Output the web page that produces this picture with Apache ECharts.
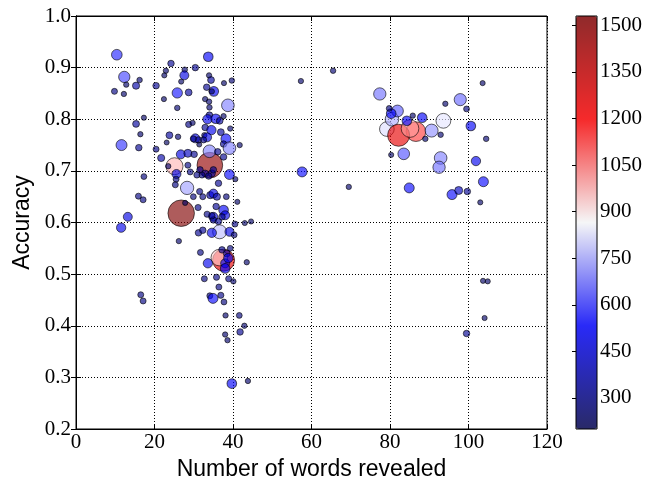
<!DOCTYPE html>
<html>
<head>
<meta charset="utf-8">
<script src="https://cdn.jsdelivr.net/npm/echarts@6/dist/echarts.min.js"></script>
<style>
  html, body { margin: 0; padding: 0; background: #fff; }
  #chart { width: 648px; height: 487px; }
</style>
</head>
<body>
<div id="chart"></div>
<script>
// Words revealed before answering, per question
const words = [
  26.8, 34.1, 37.6, 36.5, 25.1, 79.2, 80.5, 86.6, 82.2, 85.1,
  90.6, 93.6, 77.4, 81.9, 97.9, 83.5, 92.9, 92.5, 80.3, 79.8,
  84.3, 85.8, 88.2, 89.0, 92.9, 94.1, 99.5, 100.6, 103.6, 104.5,
  80.3, 101.9, 103.8, 84.9, 95.8, 97.5, 99.7, 103.0, 103.7, 104.9,
  104.1, 99.5, 57.3, 65.5, 57.6, 69.5, 10.4, 12.3, 16.2, 15.3,
  12.8, 9.8, 12.2, 20.4, 22.4, 25.8, 25.8, 24.2, 22.9, 22.5,
  17.3, 15.3, 16.4, 11.6, 16.0, 20.4, 21.7, 23.8, 26.0, 23.1,
  26.7, 23.5, 17.3, 25.6, 25.5, 25.3, 28.3, 15.9, 17.1, 13.2,
  11.5, 26.2, 16.5, 17.1, 33.7, 30.4, 27.7, 27.6, 26.8, 28.7,
  33.9, 34.4, 37.7, 39.7, 33.3, 35.1, 34.6, 32.9, 33.9, 38.7,
  34.0, 28.7, 29.7, 34.0, 33.5, 35.6, 37.6, 36.6, 32.9, 34.5,
  39.3, 36.9, 32.7, 38.2, 30.4, 31.2, 29.9, 33.4, 41.7, 37.6,
  39.1, 34.0, 36.1, 28.5, 37.6, 31.4, 30.1, 32.5, 31.6, 32.9,
  34.6, 35.0, 32.1, 33.8, 30.8, 29.1, 28.5, 39.1, 36.3, 40.6,
  41.1, 31.5, 32.3, 34.2, 35.0, 35.9, 38.3, 29.9, 37.6, 38.0,
  35.7, 35.0, 35.0, 36.3, 37.2, 34.6, 33.4, 31.1, 27.8, 36.6,
  34.6, 31.2, 32.3, 39.1, 40.3, 40.5, 43.0, 44.6, 31.7, 33.6,
  37.2, 38.4, 39.3, 38.0, 38.8, 38.0, 43.5, 32.7, 35.8, 38.9,
  40.1, 36.4, 34.1, 34.9, 36.9, 37.7, 38.1, 41.6, 42.9, 41.8,
  38.0, 38.6, 39.7, 43.8
];

// Accuracy at that point
const accuracy = [
  0.618, 0.711, 0.527, 0.532, 0.709, 0.781, 0.800, 0.776, 0.769, 0.782,
  0.778, 0.797, 0.849, 0.816, 0.838, 0.733, 0.725, 0.707, 0.811, 0.821,
  0.797, 0.807, 0.803, 0.762, 0.770, 0.830, 0.820, 0.787, 0.870, 0.762,
  0.731, 0.719, 0.679, 0.667, 0.654, 0.662, 0.660, 0.639, 0.487, 0.486,
  0.415, 0.385, 0.874, 0.894, 0.698, 0.669, 0.925, 0.882, 0.876, 0.865,
  0.867, 0.854, 0.849, 0.865, 0.839, 0.851, 0.822, 0.908, 0.894, 0.885,
  0.803, 0.791, 0.771, 0.750, 0.745, 0.742, 0.725, 0.769, 0.766, 0.755,
  0.732, 0.709, 0.689, 0.694, 0.684, 0.673, 0.667, 0.651, 0.644, 0.611,
  0.590, 0.564, 0.460, 0.448, 0.921, 0.900, 0.896, 0.885, 0.873, 0.852,
  0.885, 0.876, 0.870, 0.875, 0.862, 0.854, 0.854, 0.839, 0.834, 0.827,
  0.823, 0.790, 0.793, 0.808, 0.800, 0.801, 0.806, 0.797, 0.784, 0.779,
  0.782, 0.775, 0.769, 0.762, 0.763, 0.760, 0.762, 0.765, 0.750, 0.752,
  0.744, 0.738, 0.737, 0.734, 0.727, 0.751, 0.732, 0.760, 0.702, 0.695,
  0.695, 0.702, 0.692, 0.690, 0.692, 0.698, 0.711, 0.693, 0.676, 0.684,
  0.640, 0.660, 0.650, 0.653, 0.656, 0.650, 0.650, 0.650, 0.624, 0.614,
  0.631, 0.611, 0.605, 0.602, 0.611, 0.613, 0.616, 0.629, 0.638, 0.582,
  0.580, 0.580, 0.585, 0.582, 0.576, 0.597, 0.599, 0.602, 0.542, 0.521,
  0.547, 0.540, 0.550, 0.521, 0.531, 0.511, 0.523, 0.491, 0.494, 0.491,
  0.486, 0.475, 0.458, 0.453, 0.459, 0.446, 0.420, 0.420, 0.400, 0.388,
  0.383, 0.372, 0.288, 0.293
];

// Count shown by colour (and marker size)
const counts = [
  1530, 1480, 1260, 930, 960, 820, 760, 1120, 1260, 1000,
  720, 830, 680, 650, 670, 640, 700, 680, 520, 290,
  520, 260, 520, 270, 270, 260, 290, 520, 250, 270,
  250, 500, 540, 540, 540, 420, 330, 250, 250, 250,
  250, 330, 260, 270, 540, 260, 580, 620, 270, 370,
  260, 300, 260, 330, 250, 560, 270, 330, 260, 250,
  250, 350, 260, 600, 330, 300, 370, 350, 270, 240,
  480, 260, 290, 480, 300, 300, 740, 300, 300, 480,
  500, 260, 300, 300, 520, 330, 270, 480, 250, 350,
  260, 350, 250, 270, 330, 520, 260, 260, 270, 700,
  270, 310, 260, 330, 500, 520, 260, 350, 330, 500,
  260, 350, 260, 540, 480, 330, 310, 480, 260, 330,
  700, 700, 330, 420, 330, 240, 330, 310, 330, 350,
  370, 330, 310, 330, 310, 300, 300, 540, 330, 250,
  250, 310, 300, 370, 480, 370, 290, 290, 520, 480,
  330, 480, 330, 330, 330, 330, 310, 310, 250, 780,
  500, 330, 330, 480, 290, 300, 250, 250, 300, 500,
  330, 350, 290, 480, 500, 520, 260, 300, 310, 310,
  260, 300, 300, 540, 310, 290, 260, 290, 260, 330,
  260, 260, 520, 260
];

// Colour bar range and tick labels
const countMin = 200;
const countMax = 1530;
const countTicks = [300, 450, 600, 750, 900, 1050, 1200, 1350, 1500];
const accuracyTicks = { min: 0.2, max: 1.0, step: 0.1 };
const wordTicks = { min: 0, max: 120, step: 20 };

const points = words.map((w, i) => [w, accuracy[i], counts[i]]);

const serif = '"Liberation Serif", "DejaVu Serif", serif';
const sans = '"Liberation Sans", Arial, sans-serif';

const plot = { left: 76, top: 16, width: 471, height: 413 };
const bar = { left: 576, top: 16, width: 21, height: 413 };

const dotted = { color: '#000', width: 1, type: [1, 2] };
const tickFont = { fontFamily: serif, fontSize: 21, color: '#000' };
const nameFont = { fontFamily: sans, fontSize: 23, color: '#000' };

const chart = echarts.init(document.getElementById('chart'), null, { renderer: 'canvas' });

chart.setOption({
  backgroundColor: '#fff',
  animation: false,
  grid: [
    { left: plot.left, top: plot.top, width: plot.width, height: plot.height,
      show: true, borderColor: '#000', borderWidth: 1, backgroundColor: 'transparent' },
    { left: bar.left, top: bar.top, width: bar.width, height: bar.height,
      show: true, borderColor: '#000', borderWidth: 1, backgroundColor: 'transparent', z: 10 }
  ],
  xAxis: [
    {
      gridIndex: 0, type: 'value', position: 'bottom',
      min: wordTicks.min, max: wordTicks.max, interval: wordTicks.step,
      name: 'Number of words revealed', nameLocation: 'middle', nameGap: 24,
      nameTextStyle: nameFont,
      axisLine: { show: true, lineStyle: { color: '#000', width: 1 } },
      axisTick: { show: true, inside: true, length: 5, lineStyle: { color: '#000' } },
      axisLabel: Object.assign({ margin: 3 }, tickFont),
      splitLine: { show: true, lineStyle: dotted }
    },
    {
      gridIndex: 0, type: 'value', position: 'top',
      min: wordTicks.min, max: wordTicks.max, interval: wordTicks.step,
      axisLine: { show: true, lineStyle: { color: '#000', width: 1 } },
      axisTick: { show: true, inside: true, length: 5, lineStyle: { color: '#000' } },
      axisLabel: { show: false }, splitLine: { show: false }
    },
    { gridIndex: 1, type: 'value', show: false, min: 0, max: 1 }
  ],
  yAxis: [
    {
      gridIndex: 0, type: 'value', position: 'left',
      min: accuracyTicks.min, max: accuracyTicks.max, interval: accuracyTicks.step,
      name: 'Accuracy', nameLocation: 'middle', nameGap: 34, nameRotate: 90,
      nameTextStyle: nameFont,
      axisLine: { show: true, lineStyle: { color: '#000', width: 1 } },
      axisTick: { show: true, inside: true, length: 5, lineStyle: { color: '#000' } },
      axisLabel: Object.assign({ margin: 5, formatter: v => v.toFixed(1) }, tickFont),
      splitLine: { show: true, lineStyle: dotted }
    },
    {
      gridIndex: 0, type: 'value', position: 'right',
      min: accuracyTicks.min, max: accuracyTicks.max, interval: accuracyTicks.step,
      axisLine: { show: true, lineStyle: { color: '#000', width: 1 } },
      axisTick: { show: true, inside: true, length: 5, lineStyle: { color: '#000' } },
      axisLabel: { show: false }, splitLine: { show: false }
    },
    {
      gridIndex: 1, type: 'value', position: 'right',
      min: countMin, max: countMax,
      axisLine: { show: false },
      axisTick: { show: true, inside: true, length: 4, customValues: countTicks,
                  lineStyle: { color: '#000' } },
      axisLabel: Object.assign({ show: true, customValues: countTicks, margin: 3,
                                 formatter: v => String(v) }, tickFont),
      splitLine: { show: false }
    }
  ],
  visualMap: {
    type: 'continuous',
    dimension: 2,
    seriesIndex: 0,
    min: countMin, max: countMax,
    calculable: false,
    orient: 'vertical',
    left: bar.left, top: bar.top,
    itemWidth: bar.width, itemHeight: bar.height,
    padding: 0,
    text: null,
    showLabel: false,
    inRange: {
      color: [
        'rgba(0,0,76,0.8)',
        'rgba(0,0,255,0.8)',
        'rgba(255,255,255,0.8)',
        'rgba(255,0,0,0.8)',
        'rgba(128,0,0,0.8)'
      ]
    }
  },
  series: [
    {
      type: 'scatter',
      xAxisIndex: 0, yAxisIndex: 0,
      data: points,
      symbol: 'circle',
      symbolSize: d => 1 + d[2] / 60,
      itemStyle: { borderColor: 'rgba(0,0,0,0.75)', borderWidth: 1 },
      emphasis: { disabled: true }
    }
  ]
});
</script>
</body>
</html>
